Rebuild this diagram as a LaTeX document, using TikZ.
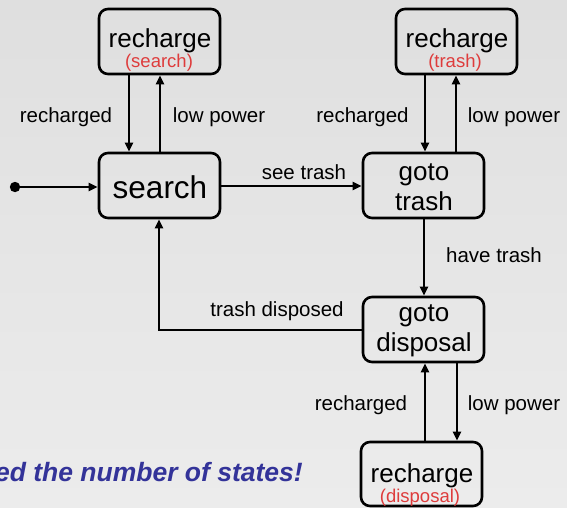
\documentclass[tikz,border=0pt]{standalone}
\usepackage{fontspec}
\setmainfont{Liberation Sans}
\usetikzlibrary{arrows.meta}
\definecolor{redtxt}{RGB}{222,60,60}
\definecolor{bluetxt}{RGB}{51,51,153}
\definecolor{bgtop}{RGB}{223,223,223}
\definecolor{bgbot}{RGB}{236,236,236}
\tikzset{
  statebox/.style={draw=black, line width=2.6pt, rounded corners=9pt, fill=none,
    minimum width=121pt, minimum height=65pt, inner sep=0pt},
  boxtext/.style={font=\fontsize{26}{30}\selectfont, align=center, inner sep=0pt},
  subtext/.style={font=\fontsize{18.5}{20}\selectfont, text=redtxt, inner sep=0pt},
  lbl/.style={font=\fontsize{20.5}{22}\selectfont, inner sep=0pt},
  trans/.style={draw=black, line width=2.4pt, -{Triangle[length=9pt,width=8pt]}},
}
\begin{document}
\begin{tikzpicture}[x=1pt,y=-1pt]
\shade[top color=bgtop, bottom color=bgbot] (0,0) rectangle (567,507);
\useasboundingbox (0,0) rectangle (567,507);
\begin{scope}
\clip (0,0) rectangle (567,507);
% boxes
\node[statebox] (rs) at (159.5,41.5) {};
\node[statebox] (s)  at (159.5,185.5) {};
\node[statebox] (rt) at (456.5,41.5) {};
\node[statebox] (gt) at (423.5,185.5) {};
\node[statebox] (gd) at (423.5,329.5) {};
\node[statebox, minimum height=64pt] (rd) at (421.5,474) {};
% texts
\node[boxtext] (rst) at (160,41) {recharge};
\node[subtext] (rss) at (159,63) {(search)};
\node[boxtext, font=\fontsize{31.5}{34}\selectfont] (st) at (160,187) {search};
\node[boxtext] (rtt) at (457,41) {recharge};
\node[subtext] (rts) at (455,63) {(trash)};
\node[boxtext] (gtt) at (424,187) {goto\\trash};
\node[boxtext] (gdt) at (424,331) {goto\\disposal};
\node[boxtext] (rdt) at (422,476) {recharge};
\node[subtext] (rds) at (420,498) {(disposal)};
% start
\fill (15,187) circle (5.2pt);
\coordinate (start) at (15,187);
\draw[trans, line width=2.2pt] (start) -- (s.west |- start);
% search <-> recharge
\draw[trans] (rs.south -| 129,0) -- (s.north -| 129,0);
\draw[trans] (s.north -| 160,0) -- (rs.south -| 160,0);
\node[lbl] (l1) at (66,117) {recharged};
\node[lbl] (l2) at (219,117) {low power};
% goto trash <-> recharge
\draw[trans] (rt.south -| 425,0) -- (gt.north -| 425,0);
\draw[trans] (gt.north -| 456,0) -- (rt.south -| 456,0);
\node[lbl] (l3) at (362.5,117) {recharged};
\node[lbl] (l4) at (514,117) {low power};
% see trash
\draw[trans] (s.east |- 0,186) -- (gt.west |- 0,186);
\node[lbl] (l5) at (304,172) {see trash};
% have trash
\draw[trans] (gt.south -| 424,0) -- (gd.north -| 424,0);
\node[lbl] (l6) at (494,255) {have trash};
% trash disposed
\draw[trans] (gd.west |- 0,330) -| (s.south -| 159,0);
\node[lbl] (l7) at (277,311) {trash disposed};
% disposal <-> recharge
\draw[trans] (rd.north -| 425,0) -- (gd.south -| 425,0);
\draw[trans] (gd.south -| 457,0) -- (rd.north -| 457,0);
\node[lbl] (l8) at (361,405) {recharged};
\node[lbl] (l9) at (514,405) {low power};
% note
\node[anchor=base east, inner sep=0pt, text=bluetxt, font=\fontsize{26.5}{28}\bfseries\itshape\selectfont] (note) at (303,481.5) {ed the number of states!};
\end{scope}
\end{tikzpicture}
\end{document}
